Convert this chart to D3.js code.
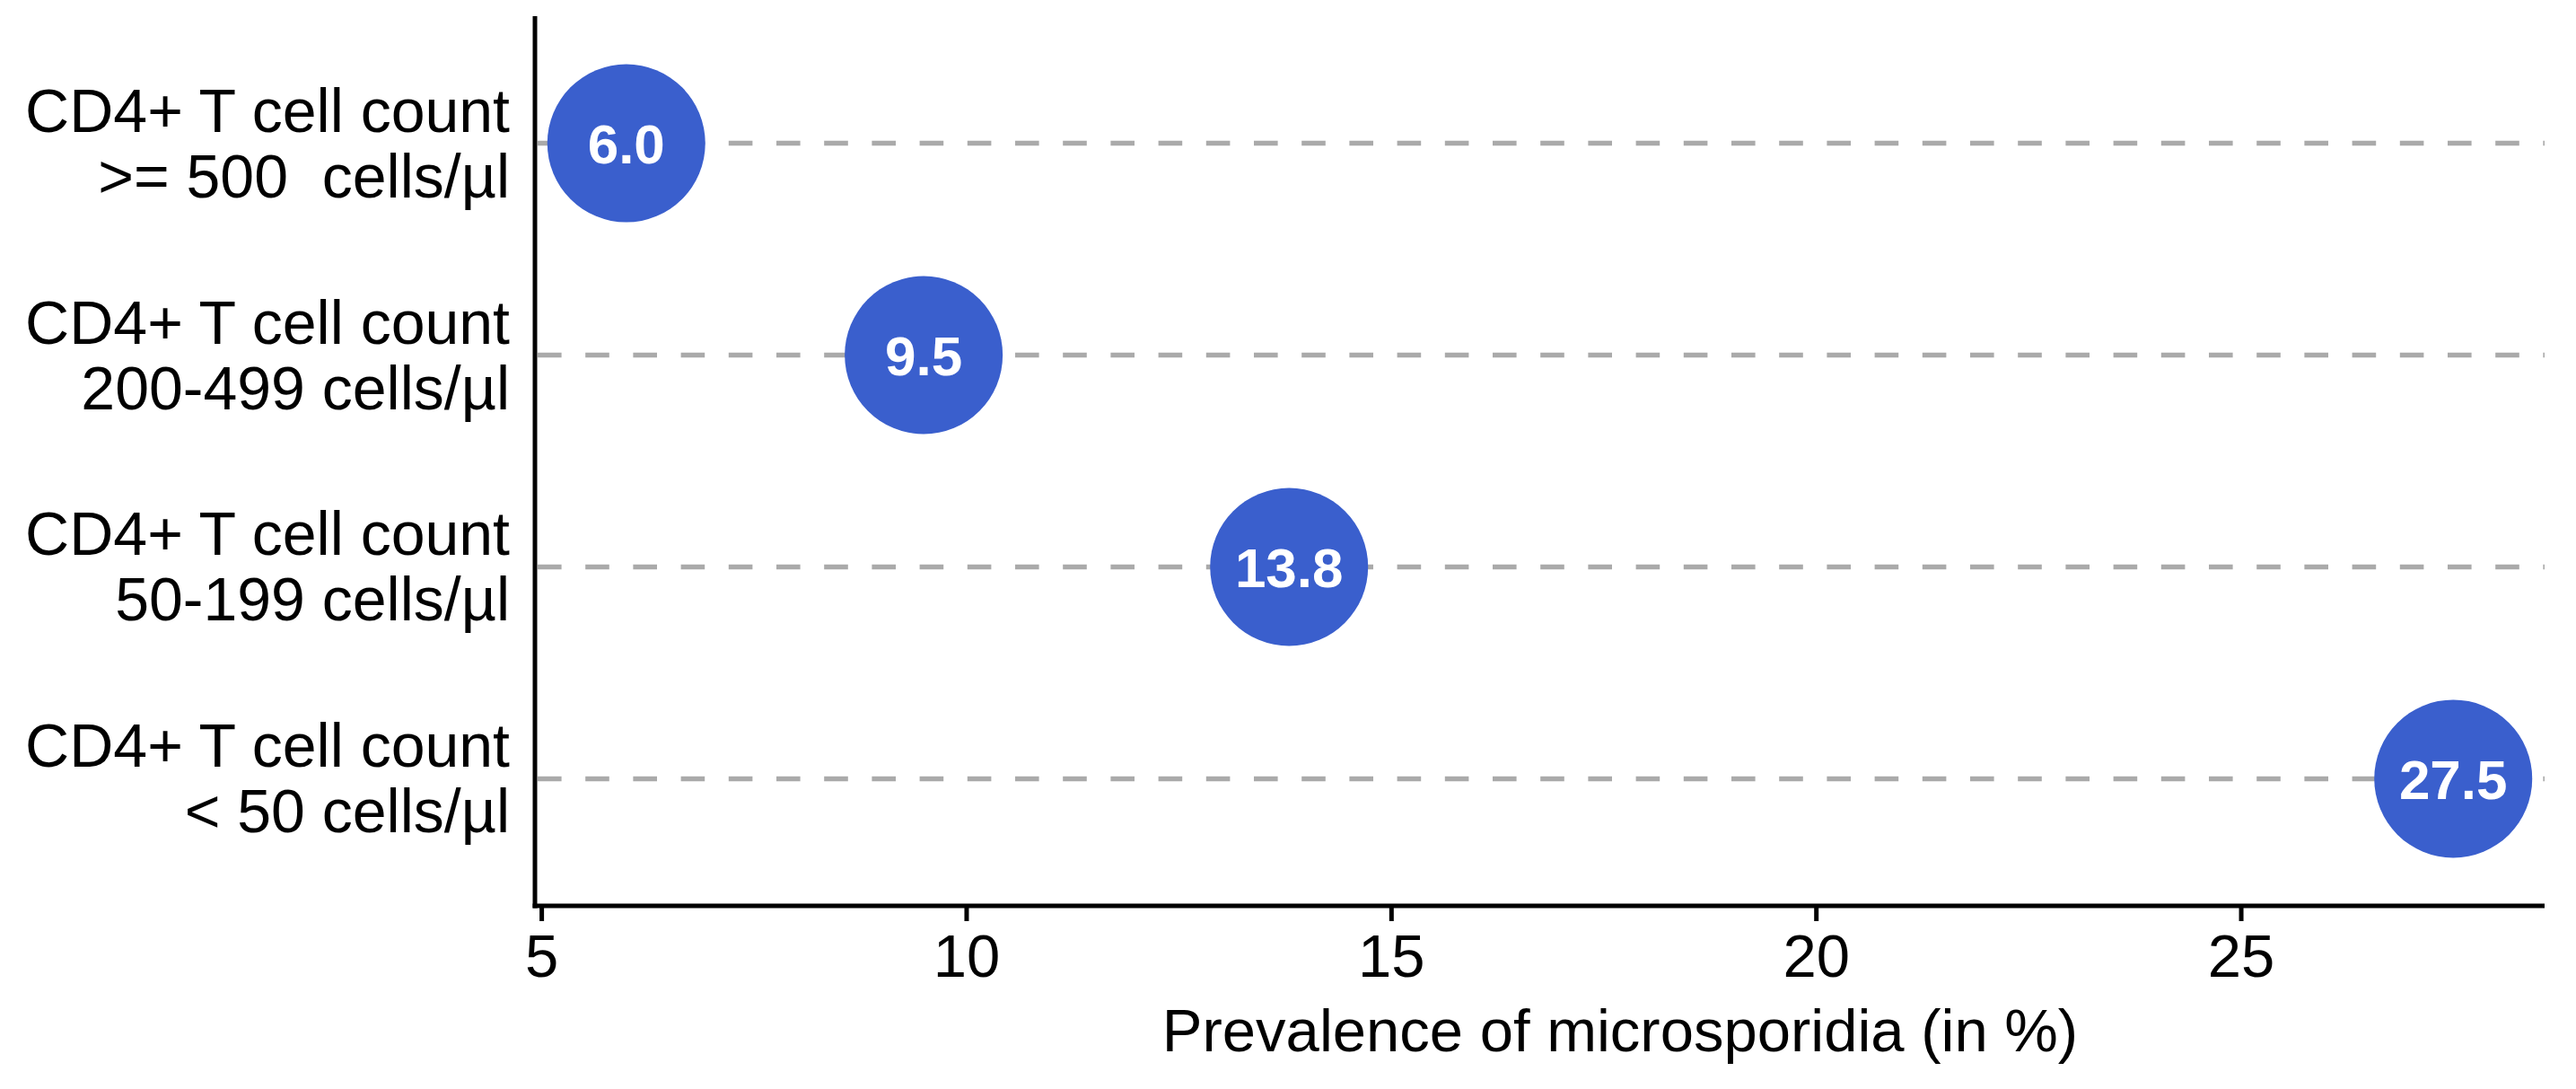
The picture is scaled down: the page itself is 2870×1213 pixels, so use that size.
<!DOCTYPE html>
<html>
<head>
<meta charset="utf-8">
<script src="https://cdn.jsdelivr.net/npm/d3@7"></script>
<style>
  body { margin: 0; background: #fff; }
  text { font-family: Arial, "Liberation Sans", sans-serif; }
</style>
</head>
<body>
<svg id="chart"></svg>
<script>
// categories, top to bottom (two label lines each)
const groups = ["ge500", "200-499", "50-199", "lt50"];
const labelLine1 = ["CD4+ T cell count", "CD4+ T cell count", "CD4+ T cell count", "CD4+ T cell count"];
const labelLine2 = [">= 500  cells/µl", "200-499 cells/µl", "50-199 cells/µl", "< 50 cells/µl"];
const prevalence = [6.0, 9.5, 13.8, 27.5];
const xTicks = [5, 10, 15, 20, 25];
const xTitle = "Prevalence of microsporidia (in %)";

let width = 2870, height = 1213;
let svg = d3.select("#chart")
    .attr("width", width)
    .attr("height", height);

let panelLeft = 596, panelRight = 2835, panelTop = 18, panelBottom = 1009;

// ggplot-style 5% expansion around data range
let lo = d3.min(prevalence), hi = d3.max(prevalence);
let pad = (hi - lo) * 0.05;
let xScale = d3.scaleLinear().domain([lo - pad, hi + pad]).range([panelLeft, panelRight]);
let yScale = d3.scalePoint().domain(groups).range([panelTop, panelBottom]).padding(0.6);

let data = groups.map((g, i) => ({ key: g, l1: labelLine1[i], l2: labelLine2[i], v: prevalence[i] }));

// dashed guide lines
svg.append("g")
    .selectAll("line")
    .data(data)
    .join("line")
    .attr("x1", panelLeft + 3)
    .attr("x2", panelRight)
    .attr("y1", d => yScale(d.key))
    .attr("y2", d => yScale(d.key))
    .attr("stroke", "#aaaaaa")
    .attr("stroke-width", 5.5)
    .attr("stroke-dasharray", "26.6,26.6");

// y axis line
svg.append("line")
    .attr("x1", panelLeft).attr("x2", panelLeft)
    .attr("y1", panelTop).attr("y2", panelBottom + 2.5)
    .attr("stroke", "#000").attr("stroke-width", 5);

let xAxis = svg.append("g")
    .attr("transform", `translate(0,${panelBottom})`)
    .call(d3.axisBottom(xScale).tickValues(xTicks).tickSize(17).tickPadding(14).tickSizeOuter(0));
xAxis.select(".domain")
    .attr("d", `M${panelLeft - 2.5},0H${panelRight}`)
    .attr("stroke", "#000").attr("stroke-width", 5);
xAxis.selectAll(".tick line").attr("stroke", "#000").attr("stroke-width", 5);
xAxis.selectAll(".tick text")
    .attr("font-size", "67px")
    .attr("font-family", "Arial, 'Liberation Sans', sans-serif")
    .attr("fill", "#000");

// bubbles
svg.append("g")
    .selectAll("circle")
    .data(data)
    .join("circle")
    .attr("cx", d => xScale(d.v))
    .attr("cy", d => yScale(d.key))
    .attr("r", 88)
    .attr("fill", "#3a5fcd");

svg.append("g")
    .selectAll("text")
    .data(data)
    .join("text")
    .attr("x", d => xScale(d.v))
    .attr("y", d => yScale(d.key))
    .attr("dy", "0.36em")
    .attr("text-anchor", "middle")
    .attr("font-size", "62px")
    .attr("font-weight", "bold")
    .attr("fill", "#fff")
    .text(d => d.v.toFixed(1));

// category labels
let lab = svg.append("g")
    .selectAll("text")
    .data(data)
    .join("text")
    .attr("text-anchor", "end")
    .attr("font-size", "68px")
    .attr("fill", "#000")
    .style("white-space", "pre");
lab.append("tspan")
    .attr("x", 568)
    .attr("y", d => yScale(d.key) - 13)
    .text(d => d.l1);
lab.append("tspan")
    .attr("x", 568)
    .attr("y", d => yScale(d.key) + 60)
    .text(d => d.l2);

// x axis title
svg.append("text")
    .attr("x", 1805)
    .attr("y", 1171)
    .attr("text-anchor", "middle")
    .attr("font-size", "67px")
    .attr("fill", "#000")
    .text(xTitle);
</script>
</body>
</html>
